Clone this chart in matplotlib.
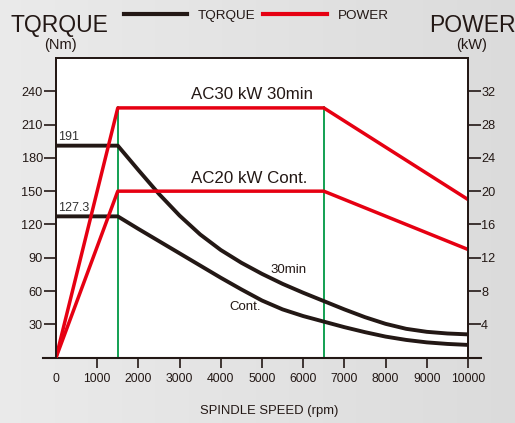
import numpy as np
import matplotlib
matplotlib.use("Agg")
import matplotlib.pyplot as plt

plt.rcParams['font.family'] = ['Liberation Sans', 'DejaVu Sans']

# torque curves (Nm)
speed_30 = [0, 1500, 2000, 2500, 3000, 3500, 4000, 4500, 5000, 5500, 6000,
            6500, 7000, 7500, 8000, 8500, 9000, 9500, 10000]
torque_30 = [191, 191, 169, 147.5, 128, 111, 97, 85.5, 75.5, 66.5, 58.5,
             51, 43.5, 36.5, 30.5, 26, 23.3, 21.8, 21]
speed_cont = [0, 1500, 2000, 2500, 3000, 3500, 4000, 4500, 5000, 5500, 6000,
              6500, 7000, 7500, 8000, 8500, 9000, 9500, 10000]
torque_cont = [127.3, 127.3, 116, 105, 94, 83, 72, 61.5, 51.5, 43.5, 37.5,
               32.5, 27.5, 23, 19, 16, 13.8, 12.4, 11.5]

# power curves (kW)
speed_pw = [0, 1500, 6500, 10000]
power_30 = [0, 30, 30, 19]
power_cont = [0, 20, 20, 13]

base_speeds = [1500, 6500]

black = '#231815'
red = '#e60012'
green = '#009944'

fig = plt.figure(figsize=(5.15, 4.23), dpi=100)

# gray gradient background
bg = fig.add_axes([0, 0, 1, 1], zorder=-10)
grad = np.linspace(0.92, 0.86, 256).reshape(1, -1)
bg.imshow(np.dstack([grad, grad, grad]), aspect='auto', extent=[0, 1, 0, 1])
bg.axis('off')

ax = fig.add_axes([0.1087, 0.1544, 0.8, 0.7086])
ax.set_facecolor('white')
ymax = 270
ax.set_xlim(0, 10000)
ax.set_ylim(0, ymax)
ax2 = ax.twinx()
ax2.set_ylim(0, ymax / 7.5)

for s in base_speeds:
    ax.plot([s, s], [0, 225.6], color=green, lw=1.3, zorder=2)

ax.plot(speed_30, torque_30, color=black, lw=2.8, zorder=3, solid_joinstyle='round')
ax.plot(speed_cont, torque_cont, color=black, lw=2.8, zorder=3, solid_joinstyle='round')
ax2.plot(speed_pw, power_30, color=red, lw=2.5)
ax2.plot(speed_pw, power_cont, color=red, lw=2.5)

ax.set_xticks(range(0, 10001, 1000))
ax.set_yticks(range(30, 241, 30))
ax2.set_yticks(range(4, 33, 4))
ax.tick_params(axis='x', direction='out', length=7, width=1.2, color=black,
               labelsize=8.8, pad=4, labelcolor='#231815')
ax.tick_params(axis='y', direction='out', length=9, width=1.2, color=black,
               labelsize=9.2, pad=0.5, labelcolor='#231815')
ax2.tick_params(axis='y', direction='out', length=9, width=1.2, color=black,
                labelsize=9.2, pad=0.5, labelcolor='#231815')
ax.xaxis.get_major_ticks()[0].tick1line.set_visible(False)
for a in (ax, ax2):
    for sp in a.spines.values():
        sp.set_color(black)
        sp.set_linewidth(1.3)
ax2.spines['bottom'].set_visible(False)
ax.spines['bottom'].set_visible(False)
ax.plot([-0.032, 1.032], [0, 0], transform=ax.transAxes, color=black, lw=1.5,
        clip_on=False, zorder=5)

ax.text(60, 193, '191', fontsize=9, color='#333333', va='bottom')
ax.text(60, 129.5, '127.3', fontsize=9, color='#333333', va='bottom')
ax.text(4746, 230, 'AC30 kW 30min', fontsize=12.2, color='#231815', ha='center', va='bottom')
ax.text(4680, 155, 'AC20 kW Cont.', fontsize=12.2, color='#231815', ha='center', va='bottom')
ax.text(5650, 79, '30min', fontsize=9.5, color='#231815', ha='center', va='center')
ax.text(4585, 46, 'Cont.', fontsize=9.5, color='#231815', ha='center', va='center')

fig.text(0.115, 0.94, 'TQRQUE', fontsize=16.5, ha='center', va='center', color='#231815')
fig.text(0.117, 0.894, '(Nm)', fontsize=10.5, ha='center', va='center', color='#231815')
fig.text(0.918, 0.94, 'POWER', fontsize=16.5, ha='center', va='center', color='#231815')
fig.text(0.916, 0.894, '(kW)', fontsize=10.5, ha='center', va='center', color='#231815')
fig.text(0.522, 0.028, 'SPINDLE SPEED (rpm)', fontsize=9.4, ha='center', va='center',
         color='#231815')

h1, = ax.plot([], [], color=black, lw=3)
h2, = ax.plot([], [], color=red, lw=3)
fig.legend([h1, h2], ['TQRQUE', 'POWER'], loc='center', bbox_to_anchor=(0.497, 0.963),
           ncol=2, frameon=False, fontsize=9.7, handlelength=4.7, columnspacing=0.6,
           handletextpad=0.8, labelcolor='#231815')

fig.savefig('out.png', dpi=100)
